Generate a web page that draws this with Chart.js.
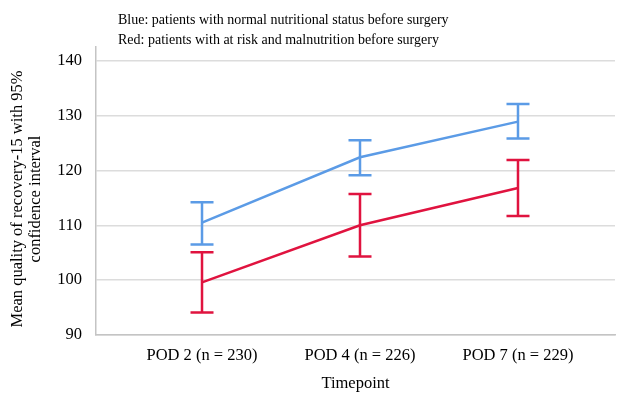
<!DOCTYPE html>
<html lang="en">
<head>
<meta charset="utf-8"/>
<title>QoR-15 by nutritional status</title>
<script src="https://cdn.jsdelivr.net/npm/chart.js"></script>
<style>
  body { margin: 0; background: #fff; }
  .wrap { position: relative; width: 619px; height: 394px; }
  .note { position: absolute; left: 118px; top: 10px; font-family: "Liberation Serif", serif; font-size: 14px; line-height: 20px; color: #000; }
  canvas { position: absolute; left: 0; top: 0; }
</style>
</head>
<body>
<div class="wrap">
  <canvas id="qorChart" width="619" height="394"></canvas>
  <div class="note">Blue: patients with normal nutritional status before surgery<br>Red: patients with at risk and malnutrition before surgery</div>
</div>
<script>
  const timepoints = ['POD 2 (n = 230)', 'POD 4 (n = 226)', 'POD 7 (n = 229)'];
  const yTicks = [90, 100, 110, 120, 130, 140];
  const yTitle = ['Mean quality of recovery-15 with 95%', 'confidence interval'];

  // blue = normal nutritional status
  const normalMean = [110.5, 122.4, 128.9];
  const normalLow  = [106.5, 119.1, 125.8];
  const normalHigh = [114.2, 125.5, 132.1];

  // red = at risk / malnutrition
  const riskMean = [99.6, 110.0, 116.8];
  const riskLow  = [94.1, 104.3, 111.7];
  const riskHigh = [105.1, 115.7, 121.9];

  const blue = '#5b9be6';
  const red = '#e0133f';
  const serif = '"Liberation Serif", "Times New Roman", serif';

  const toPoints = arr => arr.map((v, i) => ({ x: i, y: v }));

  // draw the 95% CI whiskers with caps
  const errorBars = {
    id: 'errorBars',
    afterDatasetsDraw(chart) {
      const { ctx, scales: { x, y } } = chart;
      chart.data.datasets.forEach(ds => {
        ctx.save();
        ctx.strokeStyle = ds.borderColor;
        ctx.lineWidth = 2.5;
        ds.low.forEach((lo, i) => {
          const px = x.getPixelForValue(i);
          const pLo = y.getPixelForValue(lo);
          const pHi = y.getPixelForValue(ds.high[i]);
          ctx.beginPath();
          ctx.moveTo(px, pLo); ctx.lineTo(px, pHi);
          ctx.moveTo(px - 11.5, pLo); ctx.lineTo(px + 11.5, pLo);
          ctx.moveTo(px - 11.5, pHi); ctx.lineTo(px + 11.5, pHi);
          ctx.stroke();
        });
        ctx.restore();
      });
    }
  };

  // y title sits a bit lower than the axis middle in the original
  const sideTitle = {
    id: 'sideTitle',
    afterDraw(chart) {
      const ctx = chart.ctx;
      ctx.save();
      ctx.translate(0, 199);
      ctx.rotate(-Math.PI / 2);
      ctx.font = '16.5px ' + serif;
      ctx.fillStyle = '#000';
      ctx.textAlign = 'center';
      ctx.textBaseline = 'middle';
      yTitle.forEach((line, i) => ctx.fillText(line, 0, 18 + i * 18));
      ctx.restore();
    }
  };

  new Chart(document.getElementById('qorChart'), {
    type: 'line',
    data: {
      datasets: [
        { label: 'Normal', data: toPoints(normalMean), low: normalLow, high: normalHigh,
          borderColor: blue, borderWidth: 2.5, pointRadius: 0, tension: 0 },
        { label: 'At risk / malnutrition', data: toPoints(riskMean), low: riskLow, high: riskHigh,
          borderColor: red, borderWidth: 2.5, pointRadius: 0, tension: 0 }
      ]
    },
    options: {
      responsive: false,
      animation: false,
      layout: { padding: { top: 47, right: 4, left: 0, bottom: 0 } },
      plugins: { legend: { display: false }, tooltip: { enabled: false } },
      scales: {
        x: {
          type: 'linear',
          min: -0.671,
          max: 2.614,
          afterBuildTicks: s => { s.ticks = timepoints.map((_, i) => ({ value: i })); },
          afterFit: s => { s.height = 59; },
          ticks: {
            callback: v => timepoints[v],
            color: '#000',
            font: { family: serif, size: 16.5 },
            padding: 11,
            maxRotation: 0
          },
          grid: { display: false, drawTicks: false },
          border: { color: '#c4c4c4', width: 1.5 },
          title: { display: true, text: 'Timepoint', color: '#000', font: { family: serif, size: 16.5 }, padding: { top: 14, bottom: 0 } }
        },
        y: {
          min: 90,
          max: 142.5,
          afterBuildTicks: s => { s.ticks = yTicks.map(v => ({ value: v })); },
          afterFit: s => { s.width = 96; },
          ticks: {
            color: '#000',
            font: { family: serif, size: 16.5 },
            padding: 14
          },
          grid: { color: '#dcdcdc', lineWidth: 1.5, drawTicks: false },
          border: { color: '#c4c4c4', width: 1.5 }
        }
      }
    },
    plugins: [errorBars, sideTitle]
  });
</script>
</body>
</html>
